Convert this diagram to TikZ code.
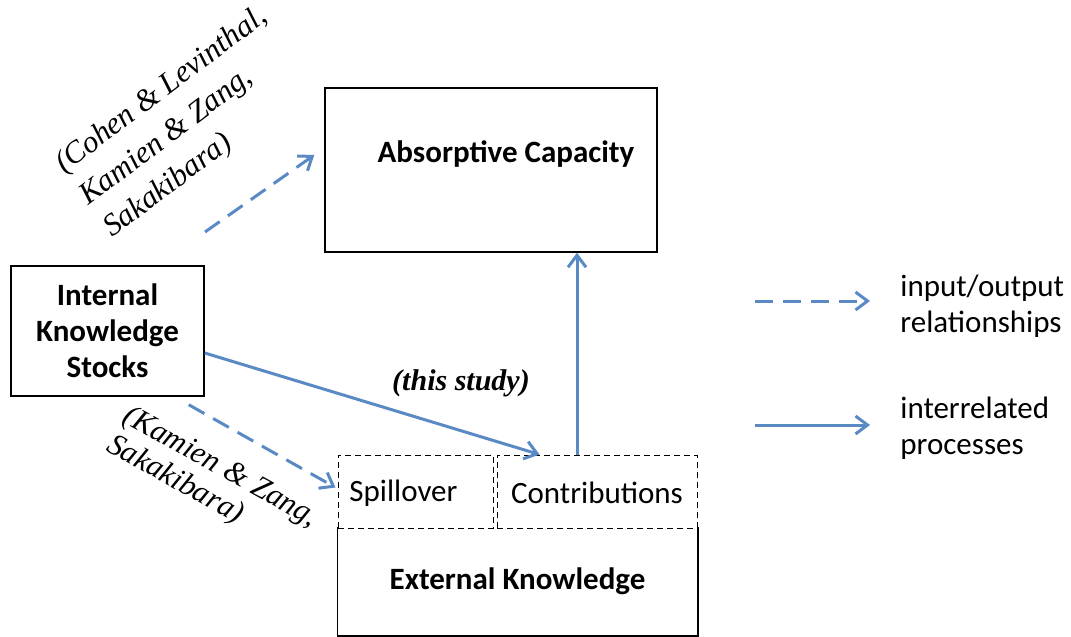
\documentclass[tikz,border=0pt]{standalone}
\usepackage{fontspec}
\setmainfont{Liberation Serif}
\setsansfont{Carlito}
\usepackage{tikz}
\usetikzlibrary{
  arrows.meta,
  positioning,
  calc
}
\definecolor{acLink}{HTML}{5A8AC4}
\tikzset{
  acnode/.style={
    draw, line width=0.75pt, inner sep=0pt, font=\sffamily\fontsize{15.5}{18}\selectfont\bfseries, align=center
  },
  subbox/.style={
    draw, densely dashed, line width=0.5pt, inner sep=0pt, font=\sffamily\fontsize{15.5}{18}\selectfont
  },
  cite/.style={font=\fontsize{15.5}{20}\selectfont\itshape, align=left, inner sep=0pt},
  keytext/.style={font=\sffamily\fontsize{15.5}{18}\selectfont, align=left, anchor=west, inner sep=0pt},
  flowline/.style={-{Straight Barb[length=6pt, width=9pt, line width=1.5pt]}, line width=1.5pt, acLink},
  ioline/.style={flowline, dash pattern=on 9pt off 5pt}
}

\begin{document}
\begin{tikzpicture}[x=0.5pt, y=-0.5pt]
  \useasboundingbox (0,0) rectangle (1071,637);

  % boxes
  \node[acnode, minimum width=166pt, minimum height=82pt, text depth=18pt] (absorb) at (491,170) {\hspace*{15pt}Absorptive Capacity};
  \node[acnode, minimum width=96.5pt, minimum height=65pt] (iks) at (107.5,331) {Internal\\Knowledge\\Stocks};
  \node[subbox, minimum width=77.5pt, minimum height=36.5pt, text height=12pt] (spill) at (415.5,491.5) {Spillover\hspace*{12pt}};
  \node[subbox, minimum width=100pt, minimum height=36.5pt, text height=12pt] (contrib) at (597,491.5) {Contributions};
  \node[acnode, draw=none, minimum width=179.5pt, minimum height=53.5pt] (ext) at (517.5,581.5) {External Knowledge};
  \draw[line width=0.75pt] (ext.north west) |- (ext.south east) -- (ext.north east);

  % labels
  \node[cite, rotate=37] (citeA) at (186,123) {(Cohen \& Levinthal,\\Kamien \& Zang,\\Sakakibara)};
  \node[cite, rotate=-29, font=\fontsize{15.5}{16.5}\selectfont\itshape] (citeB) at (212,482) {(Kamien \& Zang,\\Sakakibara)};
  \node[font=\fontsize{15}{18}\selectfont\bfseries\itshape] (study) at (461,383) {(this study)};

  % connectors
  \coordinate (citeAend) at (205,232);
  \draw[ioline] (citeAend) -- ([xshift=-5pt, yshift=7.5pt]absorb.west);
  \draw[flowline] ([yshift=-11pt]iks.east) -- ([xshift=21.5pt]contrib.north west);
  \draw[ioline] ([xshift=-8pt, yshift=-4pt]iks.south east) -- ([xshift=-1pt, yshift=2pt]spill.west);
  \draw[flowline] ([xshift=-10pt]contrib.north) -- ([xshift=-10pt]contrib.north |- absorb.south);

  % key
  \node[keytext] (keyio) at (900,306) {input/output\\relationships};
  \node[keytext] (keyproc) at (900,428) {interrelated\\processes};
  \coordinate (keyioA) at (755,301);
  \coordinate (keyprocA) at (755,425);
  \draw[ioline] (keyioA) -- (keyioA -| {$(keyio.west)+(-15pt,0)$});
  \draw[flowline] (keyprocA) -- (keyprocA -| {$(keyproc.west)+(-15pt,0)$});
\end{tikzpicture}
\end{document}
